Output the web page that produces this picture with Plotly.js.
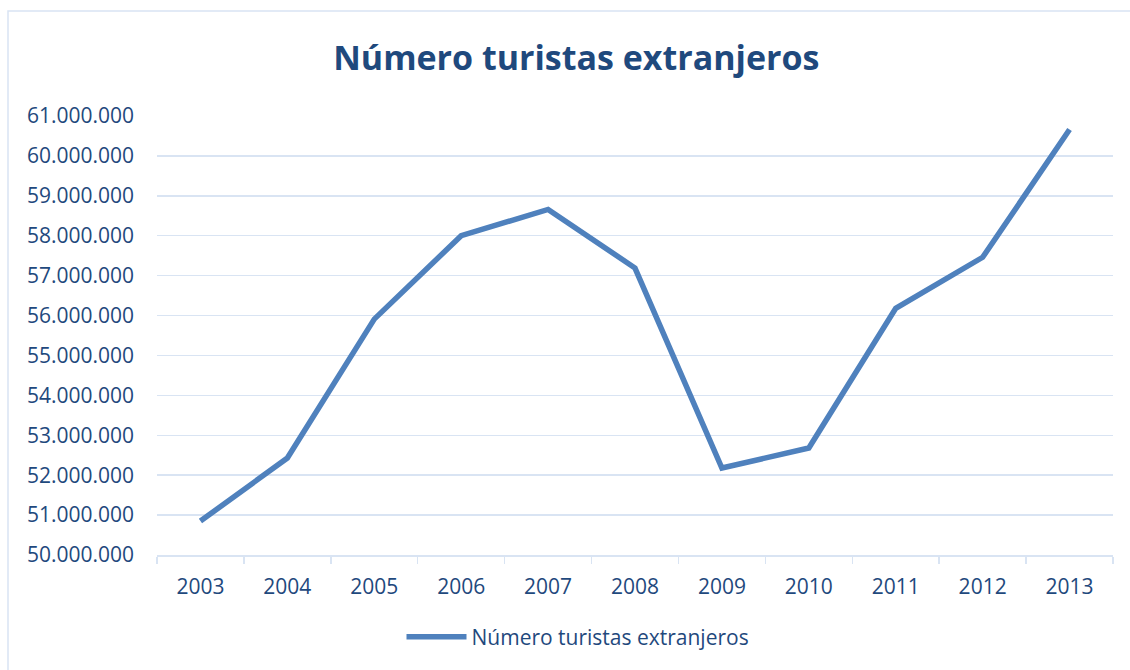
<!DOCTYPE html>
<html>
<head>
<meta charset="utf-8">
<script src="https://cdn.plot.ly/plotly-3.0.1.min.js"></script>
<style>
  html, body { margin: 0; padding: 0; background: #fff; }
  #chart { width: 1130px; height: 670px; }
</style>
</head>
<body>
<div id="chart"></div>
<script>
const years = ['2003','2004','2005','2006','2007','2008','2009','2010','2011','2012','2013'];
const tourists = [50850000, 52430000, 55910000, 58000000, 58660000, 57190000, 52180000, 52680000, 56180000, 57460000, 60660000];
const seriesName = 'Número turistas extranjeros';
const chartTitle = 'Número turistas extranjeros';

const textColor = '#1F497D';
const gridColor = '#D9E4F3';
const fontFamily = '"Open Sans", "Noto Sans", sans-serif';

const trace = {
  x: years,
  y: tourists,
  type: 'scatter',
  mode: 'lines',
  name: seriesName,
  line: { color: '#4F81BD', width: 5.5, shape: 'linear' },
  hoverinfo: 'x+y'
};

const layout = {
  width: 1130,
  height: 670,
  paper_bgcolor: '#ffffff',
  plot_bgcolor: '#ffffff',
  separators: ',.',
  font: { family: fontFamily, color: textColor, size: 21 },
  margin: { l: 157, r: 17, t: 116, b: 115, pad: 0 },
  title: {
    text: '<b>' + chartTitle + '</b>',
    font: { family: fontFamily, size: 34, color: textColor },
    xref: 'container', x: 0.51, xanchor: 'center',
    yref: 'container', y: 1 - 58 / 670, yanchor: 'middle'
  },
  xaxis: {
    type: 'category',
    range: [-0.5, years.length - 0.5],
    autorange: false,
    showgrid: false,
    showline: true,
    linecolor: gridColor,
    linewidth: 1.5,
    ticks: 'outside',
    tickson: 'boundaries',
    ticklen: 7,
    tickcolor: gridColor,
    tickwidth: 1.5,
    ticklabelstandoff: 12,
    tickfont: { family: fontFamily, size: 21, color: textColor },
    zeroline: false
  },
  yaxis: {
    range: [50000000, 61000000],
    autorange: false,
    dtick: 1000000,
    tickformat: ',.0f',
    showgrid: true,
    gridcolor: gridColor,
    gridwidth: 1.5,
    zeroline: false,
    showline: false,
    ticks: '',
    ticklabelstandoff: 22,
    tickfont: { family: fontFamily, size: 21, color: textColor }
  },
  showlegend: true,
  legend: {
    orientation: 'h',
    x: (578 - 157) / 956, xanchor: 'center',
    y: (555 - 637) / 439, yanchor: 'middle',
    font: { family: fontFamily, size: 21, color: textColor },
    itemwidth: 60
  },
  shapes: [{
    type: 'rect',
    xref: 'paper', yref: 'paper',
    x0: -149 / 956, x1: 1.05,
    y0: -0.5, y1: (555 - 11) / 439,
    line: { color: gridColor, width: 1.5 },
    fillcolor: 'rgba(0,0,0,0)',
    layer: 'below'
  }]
};

Plotly.newPlot('chart', [trace], layout, { displayModeBar: false, staticPlot: true });
</script>
</body>
</html>
